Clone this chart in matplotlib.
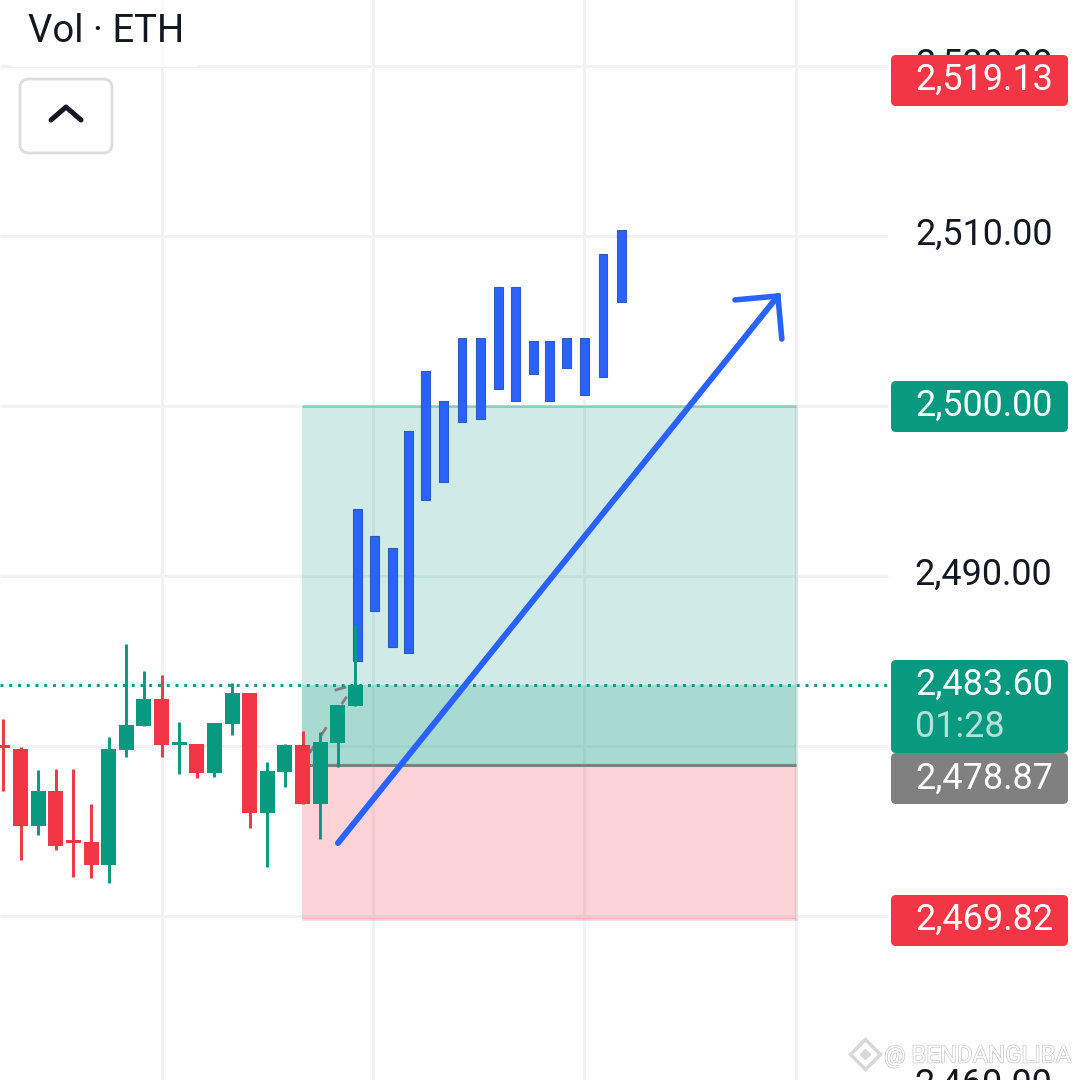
import matplotlib
matplotlib.use("Agg")
import matplotlib.pyplot as plt
import matplotlib.patheffects as pe
from matplotlib.patches import FancyBboxPatch, Rectangle
import numpy as np

GREEN = "#089981"
RED = "#F23645"
GREY = "#808080"
BLUE = "#2962FF"
GRID = "#F2F2F2"

# candles
opens = [2479.96, 2479.82, 2475.29, 2477.35, 2474.40, 2474.35, 2473.00, 2479.76, 2481.18, 2482.76, 2480.05,
         2480.12, 2478.41, 2481.29, 2483.12, 2476.06, 2478.47, 2480.06, 2476.59, 2480.18, 2482.35]
closes = [2479.88, 2475.29, 2477.35, 2474.12, 2474.30, 2473.00, 2479.82, 2481.24, 2482.76, 2480.06, 2480.12,
          2478.41, 2481.35, 2483.12, 2476.06, 2478.53, 2480.06, 2476.59, 2480.24, 2482.41, 2483.60]
highs = [2481.59, 2479.94, 2478.59, 2478.65, 2478.65, 2476.59, 2480.53, 2486.00, 2484.41, 2484.18, 2481.41,
         2480.12, 2481.35, 2483.71, 2483.12, 2479.06, 2480.12, 2480.88, 2480.82, 2482.41, 2487.12]
lows = [2477.35, 2473.29, 2474.76, 2473.88, 2472.29, 2472.24, 2471.94, 2479.35, 2481.18, 2479.35, 2478.35,
        2478.12, 2478.18, 2480.65, 2475.18, 2472.88, 2477.59, 2476.59, 2474.53, 2478.76, 2482.35]

# hand drawn blue projection bars
blue_idx = [20.1, 21.1, 22.1, 23, 24, 25, 26.05, 27.1, 28.1, 29.1, 30.1, 31, 32, 33, 34.05, 35.1]
blue_top = [2493.94, 2492.35, 2491.65, 2498.53, 2502.06, 2500.29, 2504.00, 2504.00,
            2507.00, 2507.00, 2503.82, 2503.82, 2504.00, 2504.00, 2508.94, 2510.35]
blue_bot = [2485.00, 2487.94, 2485.82, 2485.47, 2494.47, 2495.53, 2499.06, 2499.24,
            2501.00, 2500.29, 2501.88, 2500.29, 2502.24, 2500.65, 2501.71, 2506.12]

# arrow
arrow_x = [19.01, 43.98]
arrow_y = [2474.29, 2506.47]
head_x = [41.54, 43.98, 44.2]
head_y = [2506.24, 2506.47, 2503.94]

# long position tool
pos_left, pos_right = 16.97, 45
target, entry, stop, last = 2500.00, 2478.87, 2469.82, 2483.60

axis_prices = [2520, 2510, 2490, 2460, 2500, 2480, 2470]
axis_labels = ["2,520.00", "2,510.00", "2,490.00", "2,460.00"]
grid_idx = [9, 21, 33, 45]


def py(price):
    return 406 - (price - 2500) * 17


fig = plt.figure(figsize=(10.8, 10.8), dpi=100)
ax = fig.add_axes([0, 0, 1, 1])
ax.set_xlim(-3 / 17.62, 1077 / 17.62)
ax.set_ylim(2500 - 674 / 17, 2500 + 406 / 17)
ax.axis("off")

# grid, horizontal lines stop before the price scale
grid_end = 888 / 17.62 - 0.17
for p in axis_prices:
    ax.plot([ax.get_xlim()[0], grid_end], [p, p], color=GRID, lw=2.2, zorder=1, solid_capstyle="butt")
for g in grid_idx:
    ax.axvline(g, color=GRID, lw=2.2, zorder=1)

# position boxes
w = pos_right - pos_left
ax.add_patch(Rectangle((pos_left, entry), w, target - entry, fc=GREEN, alpha=0.19, lw=0, zorder=2))
ax.add_patch(Rectangle((pos_left, entry), w, last - entry, fc=GREEN, alpha=0.2, lw=0, zorder=2))
ax.add_patch(Rectangle((pos_left, stop), w, entry - stop, fc=RED, alpha=0.21, lw=0, zorder=2))
ax.plot([pos_left, pos_right], [target, target], color=GREEN, alpha=0.3, lw=2, zorder=2, solid_capstyle="butt")
ax.plot([pos_left, pos_right], [stop, stop], color=RED, alpha=0.2, lw=2, zorder=2, solid_capstyle="butt")
ax.plot([pos_right, pos_right], [stop, target], color=GREY, alpha=0.15, lw=2, zorder=2)
ax.plot([pos_left, pos_right], [entry, entry], color=GREY, lw=2.2, zorder=3, solid_capstyle="butt")

# grey dashed guide behind the candles
ax.plot([17.4, 19.5], [2479.6, 2482.9], color=GREY, lw=2, ls=(0, (4, 3)), zorder=3)
ax.plot([18.9, 19.4], [2483.3, 2483.45], color=GREY, lw=2, zorder=3)

# blue bars
ax.bar(blue_idx, np.array(blue_top) - np.array(blue_bot), bottom=blue_bot, width=0.5,
       color=BLUE, edgecolor="#2C5DB8", linewidth=0.8, zorder=4)

# candles
for i in range(len(opens)):
    c = GREEN if closes[i] >= opens[i] else RED
    ax.plot([i, i], [lows[i], highs[i]], color=c, lw=2.1, zorder=5, solid_capstyle="butt")
    body = max(abs(closes[i] - opens[i]), 0.17)
    ax.bar(i, body, bottom=min(opens[i], closes[i]), width=0.85, color=c, lw=0, zorder=5)

# last price dotted line
ax.plot([ax.get_xlim()[0], grid_end], [last, last], color=GREEN, lw=2.1, ls=(0, (1, 2)), zorder=6)

# arrow
ax.plot(arrow_x, arrow_y, color=BLUE, lw=4.3, zorder=7, solid_capstyle="round")
ax.plot(head_x, head_y, color=BLUE, lw=4.0, zorder=7, solid_capstyle="round", solid_joinstyle="miter")

# everything else is screen furniture, drawn in pixels
ui = fig.add_axes([0, 0, 1, 1], facecolor="none")
ui.set_xlim(0, 1080)
ui.set_ylim(1080, 0)
ui.axis("off")

ui.add_patch(Rectangle((12, 0), 185, 67, fc="white", alpha=0.75, lw=0, zorder=2))
ui.text(28, 32, "Vol · ETH", family="Roboto", fontsize=27.5, color="#131722", va="center", ha="left", zorder=3)
ui.add_patch(FancyBboxPatch((24, 83), 84, 66, boxstyle="round,pad=4,rounding_size=9", fc="white",
                            ec="#DDDDDD", lw=2.0, zorder=3))
ui.plot([51, 66, 81], [120, 107, 120], color="#131722", lw=3.6, solid_capstyle="round",
        solid_joinstyle="round", zorder=4)

for p, s in zip([2520, 2510, 2490, 2460], axis_labels):
    ui.text(1052.5, py(p) - 1, s, family="Roboto", fontsize=25.9, color="#131722", ha="right", va="center",
            zorder=3, clip_on=False)


def tag(y0, y1, color):
    ui.add_patch(FancyBboxPatch((891, y0), 177, y1 - y0, boxstyle="round,pad=0,rounding_size=5",
                                fc=color, lw=0, zorder=5))


tag(55, 106, RED)
tag(381, 432, GREEN)
tag(660, 753, GREEN)
tag(753, 804, GREY)
tag(895, 946, RED)

tag_text = [(80, "2,519.13", "white"), (406, "2,500.00", "white"), (685, "2,483.60", "white"),
            (727, "01:28", "#B5E0D8"), (779, "2,478.87", "white"), (920, "2,469.82", "white")]
for y, s, col in tag_text:
    ui.text(915, y, s, family="Roboto", fontsize=25.9, color=col, ha="left", va="center", zorder=6)

# watermark
ui.text(884, 1056, "@ BENDANGLIBA", family="Roboto", fontsize=17.2, color="white", ha="left", va="center", zorder=7,
        path_effects=[pe.withStroke(linewidth=1.0, foreground="#C8C8C8")])
ui.plot([865], [1054], marker="D", ms=15, mfc="white", mec="#D8D8D8", mew=2.5, zorder=7)
ui.plot([865], [1054], marker="D", ms=5, mfc="#D8D8D8", mec="#D8D8D8", zorder=8)

fig.savefig("out.png", dpi=100)
